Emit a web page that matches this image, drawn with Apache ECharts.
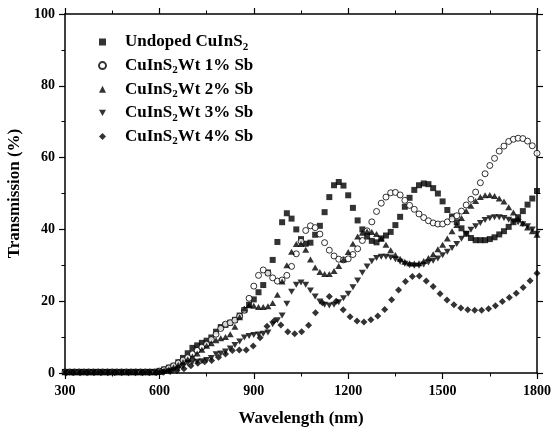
<!DOCTYPE html>
<html>
<head>
<meta charset="utf-8">
<script src="https://cdn.jsdelivr.net/npm/echarts@6/dist/echarts.min.js"></script>
<style>html,body{margin:0;padding:0;background:#fff;}#c{width:551px;height:435px;}</style>
</head>
<body>
<div id="c"></div>
<script>
// Wavelength grid (nm) for squares, circles, up/down triangles
var wl15 = [300,315,330,345,360,375,390,405,420,435,450,465,480,495,510,525,540,555,570,585,
600,615,630,645,660,675,690,705,720,735,750,765,780,795,810,825,840,855,870,885,
900,915,930,945,960,975,990,1005,1020,1035,1050,1065,1080,1095,1110,1125,1140,1155,1170,1185,
1200,1215,1230,1245,1260,1275,1290,1305,1320,1335,1350,1365,1380,1395,1410,1425,1440,1455,1470,1485,
1500,1515,1530,1545,1560,1575,1590,1605,1620,1635,1650,1665,1680,1695,1710,1725,1740,1755,1770,1785,1800];
// Wavelength grid (nm) for diamonds
var wl22 = [304,326,348,370,392,414,436,458,480,502,524,546,568,590,612,634,656,678,700,722,744,766,788,810,
832,854,876,898,920,942,964,986,1008,1030,1052,1074,1096,1118,1140,1162,1184,1206,1228,1250,1272,1294,
1316,1338,1360,1382,1404,1426,1448,1470,1492,1514,1536,1558,1580,1602,1624,1646,1668,1690,1712,1734,1756,1778,1800];

var undoped = [0.3,0.3,0.3,0.3,0.3,0.3,0.3,0.3,0.3,0.3,0.3,0.3,0.3,0.3,0.3,0.3,0.3,0.3,0.3,0.3,
0.6,1.0,1.5,2.0,3.0,4.2,5.5,7.0,7.7,8.4,
9.0,9.9,11.5,12.8,13.4,14.0,14.8,16.0,17.5,19.0,
20.5,22.5,24.5,28.0,31.5,36.5,42.0,44.5,43.0,40.0,
37.3,36.0,36.3,38.5,41.0,44.8,49.0,52.3,53.2,52.2,
49.5,46.0,42.5,40.0,38.0,36.8,36.4,37.5,38.3,39.3,
41.2,43.5,46.3,48.8,51.0,52.3,52.8,52.6,51.5,50.0,
47.8,45.4,43.6,42.0,40.3,38.8,37.6,37.0,37.0,37.0,
37.3,37.8,38.6,39.5,40.7,42.0,43.4,45.1,46.9,48.6,
50.7];
var sb1 = [0.3,0.3,0.3,0.3,0.3,0.3,0.3,0.3,0.3,0.3,0.3,0.3,0.3,0.3,0.3,0.3,0.3,0.3,0.3,0.3,
0.5,0.9,1.4,2.0,2.8,3.6,4.3,5.3,6.3,7.2,
8.0,9.3,10.8,12.4,13.6,14.0,14.7,15.8,17.5,20.8,
24.2,27.2,28.7,27.8,26.5,25.6,25.9,27.2,29.7,33.2,
36.7,39.7,41.0,40.5,38.7,36.3,34.2,32.6,31.7,31.5,
31.8,33.0,34.6,36.9,39.6,42.1,45.0,47.3,49.0,50.2,
50.3,49.6,48.1,46.7,45.6,44.3,43.3,42.4,41.8,41.5,
41.5,42.1,42.9,43.8,45.1,46.8,48.4,50.4,53.0,55.5,
57.8,59.8,61.8,63.2,64.5,65.1,65.4,65.3,64.6,63.3,
61.2];
var sb2 = [0.2,0.2,0.2,0.2,0.2,0.2,0.2,0.2,0.2,0.2,0.2,0.2,0.2,0.2,0.2,0.2,0.2,0.2,0.2,0.2,
0.3,0.6,1.0,1.5,2.2,3.0,3.8,4.6,5.4,6.5,
7.6,8.3,9.1,9.7,10.0,10.8,12.9,15.5,18.0,18.9,
18.7,18.4,18.4,18.6,19.5,21.8,25.5,30.0,33.8,35.9,
35.9,34.3,31.6,29.4,28.1,27.6,27.6,28.4,29.8,31.6,
33.7,36.0,38.0,39.1,39.4,39.3,38.7,37.4,35.7,34.2,
32.9,31.8,31.0,30.6,30.5,30.6,31.2,32.0,33.1,34.5,
35.7,37.5,39.5,41.2,43.2,45.1,46.6,47.9,49.0,49.5,
49.6,49.3,48.6,47.8,46.2,44.7,43.0,41.7,40.5,39.5,
38.5];
var sb3 = [0.2,0.2,0.2,0.2,0.2,0.2,0.2,0.2,0.2,0.2,0.2,0.2,0.2,0.2,0.2,0.2,0.2,0.2,0.2,0.2,
0.2,0.2,0.5,0.8,1.2,1.9,2.7,3.0,3.1,3.3,
3.6,4.2,5.2,5.4,6.0,6.8,7.8,8.8,9.9,10.3,
10.6,10.7,10.9,11.3,13.6,14.7,16.0,19.3,22.6,24.6,
25.2,24.6,23.0,21.3,19.9,19.0,18.8,19.0,19.7,20.8,
22.1,23.9,25.8,27.9,29.7,31.1,32.0,32.4,32.4,32.2,
31.7,31.0,30.4,30.0,29.9,29.9,30.2,30.8,31.3,31.9,
32.8,33.8,34.8,35.9,37.4,38.7,39.9,40.9,41.8,42.6,
43.1,43.4,43.4,43.2,42.7,42.3,42.0,41.4,40.9,40.0,
38.8];
var sb4 = [0.1,0.1,0.1,0.1,0.1,0.1,0.1,0.1,0.1,0.1,0.1,0.1,0.1,0.1,
0.2,0.4,0.7,1.2,2.0,2.7,3.1,3.5,4.4,5.3,
6.3,6.4,6.4,7.5,9.8,13.0,14.5,13.4,11.5,10.9,
11.5,13.3,16.8,19.6,21.3,20.0,17.6,15.7,14.5,14.2,
14.8,15.9,17.7,20.4,23.1,25.5,26.9,27.0,25.6,24.1,
22.1,20.3,19.0,18.1,17.6,17.5,17.5,17.9,18.7,19.9,
21.0,22.2,23.8,25.7,27.8];

var names = ['Undoped CuInS2','CuInS2Wt 1% Sb','CuInS2Wt 2% Sb','CuInS2Wt 3% Sb','CuInS2Wt 4% Sb'];
var xTicks = {min:300, max:1800, interval:300};
var yTicks = {min:0, max:100, interval:20};

var FONT = 'Liberation Serif, Times New Roman, serif';
var downTri = 'path://M0,0 L10,0 L5,9 Z';

function pairs(xs, ys){ return xs.map(function(x,i){ return [x, ys[i]]; }); }

var axisLineStyle = {color:'#000', width:1.5};
function mkX(pos, labels){
  return {
    type:'value', position:pos, min:xTicks.min, max:xTicks.max, interval:xTicks.interval,
    axisLine:{show:true, onZero:false, lineStyle:axisLineStyle},
    axisTick:{show:true, inside:false, length:6, lineStyle:{color:'#000', width:1.2}},
    minorTick:{show:true, splitNumber:2, length:3.5, lineStyle:{color:'#000', width:1}},
    splitLine:{show:false},
    axisLabel:{show:labels, fontFamily:FONT, fontWeight:'bold', fontSize:14, color:'#000', margin:11,
      formatter:function(v){ return String(v); }},
    name: labels ? 'Wavelength (nm)' : '',
    nameLocation:'middle', nameGap:37,
    nameTextStyle:{fontFamily:FONT, fontWeight:'bold', fontSize:17, color:'#000'}
  };
}
function mkY(pos, labels){
  return {
    type:'value', position:pos, min:yTicks.min, max:yTicks.max, interval:yTicks.interval,
    axisLine:{show:true, onZero:false, lineStyle:axisLineStyle},
    axisTick:{show:true, inside:false, length:6, lineStyle:{color:'#000', width:1.2}},
    minorTick:{show:true, splitNumber:2, length:3.5, lineStyle:{color:'#000', width:1}},
    splitLine:{show:false},
    axisLabel:{show:labels, fontFamily:FONT, fontWeight:'bold', fontSize:14, color:'#000', margin:10,
      formatter:function(v){ return String(v); }},
    name: labels ? 'Transmission (%)' : '',
    nameLocation:'middle', nameGap:40,
    nameTextStyle:{fontFamily:FONT, fontWeight:'bold', fontSize:17, color:'#000'}
  };
}

var chart = echarts.init(document.getElementById('c'), null, {renderer:'canvas'});
chart.setOption({
  backgroundColor:'#fff',
  animation:false,
  grid:{left:65, right:14, top:14, bottom:62, containLabel:false, outerBoundsMode:'none'},
  xAxis:[mkX('bottom', true), mkX('top', false)],
  yAxis:[mkY('left', true), mkY('right', false)],
  legend:{
    orient:'vertical', left:98, top:33.5, padding:0, itemWidth:7, itemHeight:7, itemGap:4.6,
    selectedMode:false,
    data:[
      {name:names[0], icon:'rect'},
      {name:names[1], icon:'circle'},
      {name:names[2], icon:'triangle'},
      {name:names[3], icon:downTri},
      {name:names[4], icon:'diamond'}
    ],
    formatter:function(n){
      var p = n.split('CuInS2');
      var s = '{a|' + p[0] + 'CuInS}{s|2}';
      if (p[1]) s += '{a|' + p[1] + '}';
      return s;
    },
    textStyle:{
      fontFamily:FONT, fontWeight:'bold', fontSize:17, color:'#000', padding:[0,0,0,14],
      rich:{
        a:{fontFamily:FONT, fontWeight:'bold', fontSize:17, color:'#000', lineHeight:18},
        s:{fontFamily:FONT, fontWeight:'bold', fontSize:11, color:'#000', padding:[10,0,0,0]}
      }
    }
  },
  series:[
    {name:names[0], type:'scatter', symbol:'rect', symbolSize:6, data:pairs(wl15, undoped),
     itemStyle:{color:'#000'}},
    {name:names[1], type:'scatter', symbol:'circle', symbolSize:6, data:pairs(wl15, sb1),
     itemStyle:{color:'#fff', borderColor:'#000', borderWidth:1}},
    {name:names[2], type:'scatter', symbol:'triangle', symbolSize:[7,6], data:pairs(wl15, sb2),
     itemStyle:{color:'#000'}},
    {name:names[3], type:'scatter', symbol:downTri, symbolSize:[7,6], data:pairs(wl15, sb3),
     itemStyle:{color:'#000'}},
    {name:names[4], type:'scatter', symbol:'diamond', symbolSize:7, data:pairs(wl22, sb4),
     itemStyle:{color:'#000'}}
  ]
});
</script>
</body>
</html>
